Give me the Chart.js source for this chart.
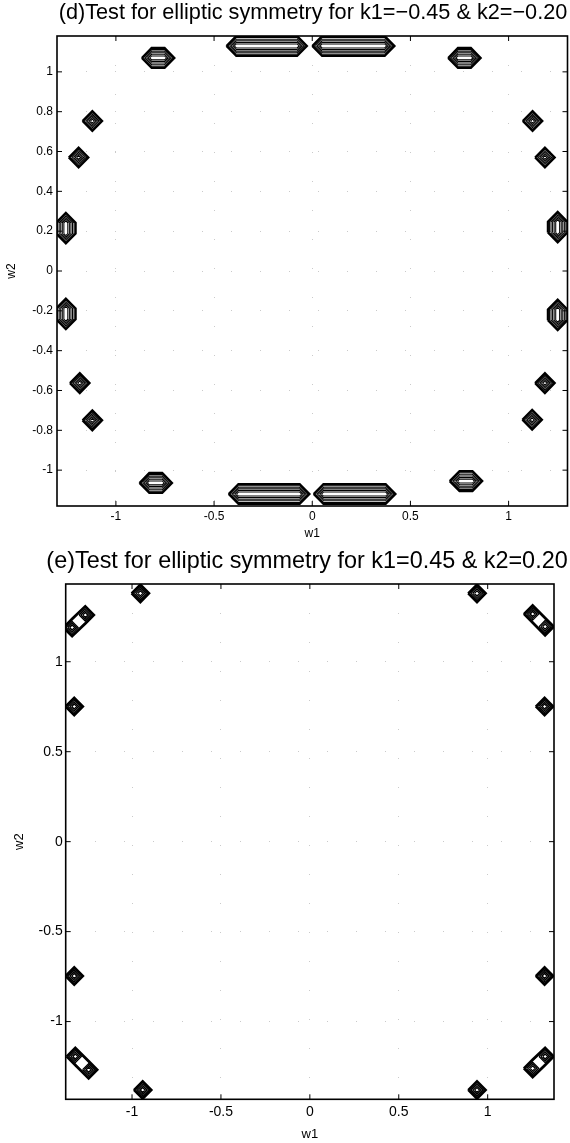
<!DOCTYPE html>
<html>
<head>
<meta charset="utf-8">
<script src="https://cdn.jsdelivr.net/npm/chart.js@4.4.1/dist/chart.umd.min.js"></script>
<style>
  html, body { margin: 0; padding: 0; background: #fff; }
  #wrap { position: relative; width: 570px; height: 1143px; }
  canvas { position: absolute; left: 0; }
  #cd { top: 0; }
  #ce { top: 545px; }
</style>
</head>
<body>
<div id="wrap">
  <canvas id="cd" width="570" height="545"></canvas>
  <canvas id="ce" width="570" height="598"></canvas>
</div>
<script>
// ---------- panel (d): k1 = -0.45, k2 = -0.20 ----------
const dTitle = '(d)Test for elliptic symmetry for k1=\u22120.45 & k2=\u22120.20';
const dW1Range = [-1.30, 1.30];
const dW2Range = [-1.18, 1.18];
const dXTicks = [-1, -0.5, 0, 0.5, 1];
const dXTickLabels = ['-1', '-0.5', '0', '0.5', '1'];
const dYTicks = [-1, -0.8, -0.6, -0.4, -0.2, 0, 0.2, 0.4, 0.6, 0.8, 1];
const dYTickLabels = ['-1', '-0.8', '-0.6', '-0.4', '-0.2', '0', '0.2', '0.4', '0.6', '0.8', '1'];
// ridge of each peak: from (w1a, w2a) to (w1b, w2b); a single point for round peaks
const dRidgeW1a = [-0.387, 0.050, -0.376, 0.057, -0.818, 0.742, -0.830, 0.750, -1.255, -1.255, 1.250, 1.250, -1.120, -1.190, 1.122, 1.185, -1.184, -1.120, 1.185, 1.120];
const dRidgeW2a = [ 1.130, 1.130, -1.120, -1.120, 1.070, 1.070, -1.064, -1.055, 0.188, -0.242, 0.193, -0.247, 0.753, 0.570, 0.753, 0.570, -0.563, -0.750, -0.563, -0.747];
const dRidgeW1b = [-0.077, 0.369, -0.064, 0.374, -0.752, 0.808, -0.764, 0.816, -1.255, -1.255, 1.250, 1.250, -1.120, -1.190, 1.122, 1.185, -1.184, -1.120, 1.185, 1.120];
const dRidgeW2b = [ 1.130, 1.130, -1.120, -1.120, 1.070, 1.070, -1.064, -1.055, 0.242, -0.188, 0.247, -0.193, 0.753, 0.570, 0.753, 0.570, -0.563, -0.750, -0.563, -0.747];
// contour levels, as distance from the ridge
const dLevels = [0.05, 0.042, 0.034, 0.026, 0.018, 0.010];

// ---------- panel (e): k1 = 0.45, k2 = 0.20 ----------
const eTitle = '(e)Test for elliptic symmetry for k1=0.45 & k2=0.20';
const eW1Range = [-1.373, 1.373];
const eW2Range = [-1.432, 1.432];
const eXTicks = [-1, -0.5, 0, 0.5, 1];
const eXTickLabels = ['-1', '-0.5', '0', '0.5', '1'];
const eYTicks = [-1, -0.5, 0, 0.5, 1];
const eYTickLabels = ['-1', '-0.5', '0', '0.5', '1'];
// single peaks
const ePeakW1 = [-0.953, 0.940, -0.940, 0.940, -1.325, 1.320, -1.325, 1.320];
const ePeakW2 = [ 1.380, 1.380, -1.380, -1.380, 0.751, 0.751, -0.747, -0.747];
// twin peaks near the corners (first and second peak of each pair)
const ePairW1a = [-1.337, 1.323, -1.319, 1.323];
const ePairW2a = [ 1.190, 1.195, -1.194, -1.194];
const ePairW1b = [-1.263, 1.253, -1.244, 1.253];
const ePairW2b = [ 1.260, 1.265, -1.268, -1.260];
const eLevels = [0.05, 0.042, 0.034, 0.024, 0.014];
const ePairJoinedLevels = 2;   // outer levels that enclose both peaks of a pair

const FONT = "'Liberation Sans', Arial, Helvetica, sans-serif";

// closed contour: convex hull of the L1 diamonds of radius r around points a and b
function ring(a, b, r) {
  const pts = [];
  for (const p of [a, b]) {
    pts.push([p[0] + r, p[1]], [p[0], p[1] + r], [p[0] - r, p[1]], [p[0], p[1] - r]);
  }
  pts.sort((p, q) => p[0] - q[0] || p[1] - q[1]);
  const cross = (o, p, q) => (p[0] - o[0]) * (q[1] - o[1]) - (p[1] - o[1]) * (q[0] - o[0]);
  const lower = [], upper = [];
  for (const p of pts) {
    while (lower.length >= 2 && cross(lower[lower.length - 2], lower[lower.length - 1], p) <= 1e-12) lower.pop();
    lower.push(p);
  }
  for (let i = pts.length - 1; i >= 0; i--) {
    const p = pts[i];
    while (upper.length >= 2 && cross(upper[upper.length - 2], upper[upper.length - 1], p) <= 1e-12) upper.pop();
    upper.push(p);
  }
  const hull = lower.slice(0, -1).concat(upper.slice(0, -1));
  hull.push(hull[0]);
  return hull.map(p => ({ x: p[0], y: p[1] }));
}

function contourSet(a, b, r, idx, inner) {
  return {
    data: ring(a, b, r),
    showLine: true,
    borderColor: '#000',
    borderWidth: idx === 0 ? 2.2 : inner,
    pointRadius: 0,
    pointHoverRadius: 0,
    fill: false,
    tension: 0
  };
}

function dDatasets() {
  const out = [];
  for (let i = 0; i < dRidgeW1a.length; i++) {
    const a = [dRidgeW1a[i], dRidgeW2a[i]], b = [dRidgeW1b[i], dRidgeW2b[i]];
    dLevels.forEach((r, k) => out.push(contourSet(a, b, r, k, 1.05)));
  }
  return out;
}

function eDatasets() {
  const out = [];
  for (let i = 0; i < ePeakW1.length; i++) {
    const p = [ePeakW1[i], ePeakW2[i]];
    eLevels.forEach((r, k) => out.push(contourSet(p, p, r, k, 1.3)));
  }
  for (let i = 0; i < ePairW1a.length; i++) {
    const a = [ePairW1a[i], ePairW2a[i]], b = [ePairW1b[i], ePairW2b[i]];
    eLevels.forEach((r, k) => {
      if (k < ePairJoinedLevels) out.push(contourSet(a, b, r, k, 1.3));
      else { out.push(contourSet(a, a, r, k, 1.3)); out.push(contourSet(b, b, r, k, 1.3)); }
    });
  }
  return out;
}

// panel heading
const headingPlugin = {
  id: 'heading',
  afterDraw(chart, args, o) {
    const ctx = chart.ctx;
    ctx.save();
    ctx.font = o.size + 'px ' + FONT;
    ctx.fillStyle = '#000';
    ctx.textAlign = 'center';
    ctx.textBaseline = 'middle';
    ctx.fillText(o.text, o.x, o.y);
    ctx.restore();
  }
};

// box around the axes with inward tick marks on all four sides
const framePlugin = {
  id: 'frame',
  afterDraw(chart, args, o) {
    const { ctx, chartArea: ca, scales } = chart;
    ctx.save();
    ctx.strokeStyle = '#000';
    ctx.lineWidth = 1;
    ctx.beginPath();
    for (const t of scales.x.ticks) {
      const px = scales.x.getPixelForValue(t.value);
      ctx.moveTo(px, ca.bottom); ctx.lineTo(px, ca.bottom - o.tick);
      ctx.moveTo(px, ca.top); ctx.lineTo(px, ca.top + o.tick);
    }
    for (const t of scales.y.ticks) {
      const py = scales.y.getPixelForValue(t.value);
      ctx.moveTo(ca.left, py); ctx.lineTo(ca.left + o.tick, py);
      ctx.moveTo(ca.right, py); ctx.lineTo(ca.right - o.tick, py);
    }
    ctx.stroke();
    ctx.lineWidth = o.width;
    ctx.strokeRect(ca.left, ca.top, ca.right - ca.left, ca.bottom - ca.top);
    ctx.restore();
  }
};

function axis(range, ticks, labels, c, horizontal) {
  return {
    type: 'linear',
    position: horizontal ? 'bottom' : 'left',
    min: range[0],
    max: range[1],
    bounds: 'data',
    afterBuildTicks: s => { s.ticks = ticks.map(v => ({ value: v })); },
    afterFit: s => { if (horizontal) s.height = c.xAxisHeight; else s.width = c.yAxisWidth; },
    ticks: {
      callback: (v, i) => labels[i],
      autoSkip: false,
      maxRotation: 0,
      color: '#000',
      padding: horizontal ? c.xTickPad : c.yTickPad,
      font: { family: FONT, size: c.tickSize }
    },
    grid: { color: 'rgba(150,150,150,0.5)', lineWidth: 1, drawTicks: false },
    border: { display: false, dash: [1, 28] },
    title: {
      display: true,
      text: horizontal ? 'w1' : 'w2',
      color: '#000',
      font: { family: FONT, size: c.labelSize },
      padding: horizontal ? { top: 0, bottom: c.xTitlePad } : { top: c.yTitlePad, bottom: 0 }
    }
  };
}

function makeChart(id, datasets, xr, yr, xt, xl, yt, yl, c) {
  return new Chart(document.getElementById(id), {
    type: 'scatter',
    data: { datasets },
    options: {
      responsive: false,
      animation: false,
      devicePixelRatio: 1,
      events: [],
      layout: { padding: c.padding },
      plugins: {
        legend: { display: false },
        tooltip: { enabled: false },
        heading: { text: c.title, x: c.titleX, y: c.titleY, size: c.titleSize },
        frame: { tick: 5, width: 1.6 }
      },
      scales: {
        x: axis(xr, xt, xl, c, true),
        y: axis(yr, yt, yl, c, false)
      }
    },
    plugins: [headingPlugin, framePlugin]
  });
}

makeChart('cd', dDatasets(), dW1Range, dW2Range, dXTicks, dXTickLabels, dYTicks, dYTickLabels, {
  padding: { top: 36, right: 2.5, bottom: 0, left: 0 },
  xAxisHeight: 39, yAxisWidth: 57,
  xTickPad: 3.5, yTickPad: 4,
  tickSize: 12, labelSize: 12,
  xTitlePad: 4, yTitlePad: 4,
  title: dTitle, titleX: 313, titleY: 13, titleSize: 21.7
});

makeChart('ce', eDatasets(), eW1Range, eW2Range, eXTicks, eXTickLabels, eYTicks, eYTickLabels, {
  padding: { top: 39, right: 16, bottom: 0, left: 0 },
  xAxisHeight: 43.7, yAxisWidth: 65.7,
  xTickPad: 4.6, yTickPad: 3,
  tickSize: 14, labelSize: 13,
  xTitlePad: 0.5, yTitlePad: 12,
  title: eTitle, titleX: 307, titleY: 17, titleSize: 23.4
});
</script>
</body>
</html>
